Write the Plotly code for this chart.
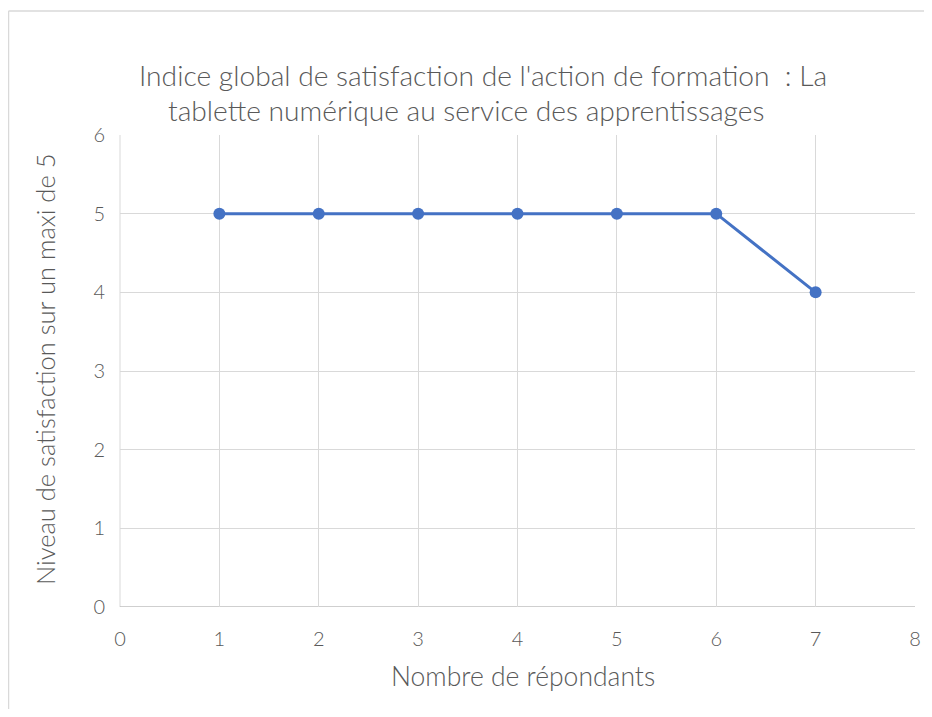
import plotly.graph_objects as go

respondents = [1, 2, 3, 4, 5, 6, 7]
satisfaction = [5, 5, 5, 5, 5, 5, 4]

title_line1 = "Indice global de satisfaction de l'action de formation  : La"
title_line2 = "tablette numérique au service des apprentissages"
x_title = "Nombre de répondants"
y_title = "Niveau de satisfaction sur un maxi de 5"

OFF = 8  # page body margin
W, H = 932 - OFF * 2, 717 - OFF * 2
# target plot area in window px: x 120..915, y 135..607
L, T = 120 - OFF, 135 - OFF
pw, ph = 915 - 120, 607 - 135
R = W - L - pw
B = H - T - ph

def px(x):
    return (x - OFF - L) / pw

def py(y):
    return (T + ph - (y - OFF)) / ph

FONT = "Lato, 'Open Sans', sans-serif"
GRAY = "#595959"

fig = go.Figure()
fig.add_trace(go.Scatter(
    x=respondents, y=satisfaction, mode="lines+markers",
    line=dict(color="#4472C4", width=3),
    marker=dict(color="#4472C4", size=12),
    showlegend=False, cliponaxis=False,
))

fig.update_layout(
    width=W, height=H,
    margin=dict(l=L, r=R, t=T, b=B, autoexpand=False),
    paper_bgcolor="white", plot_bgcolor="white",
    font=dict(family=FONT, color=GRAY, weight=300),
    xaxis=dict(range=[0, 8], dtick=1, tick0=0, showgrid=True, gridcolor="#d9d9d9", gridwidth=1,
               zeroline=False, showline=False, ticks="", automargin=False,
               tickfont=dict(size=20, color=GRAY, weight=300), ticklabelstandoff=18),
    yaxis=dict(range=[0, 6], dtick=1, tick0=0, showgrid=True, gridcolor="#d9d9d9", gridwidth=1,
               zeroline=False, showline=False, ticks="", automargin=False,
               tickfont=dict(size=20, color=GRAY, weight=300), ticklabelstandoff=14),
    shapes=[
        dict(type="line", xref="paper", yref="paper", x0=px(8.5), x1=px(960), y0=py(11), y1=py(11),
             line=dict(color="#d9d9d9", width=1.5), layer="below"),
        dict(type="line", xref="paper", yref="paper", x0=px(8.5), x1=px(8.5), y0=py(11), y1=py(760),
             line=dict(color="#d9d9d9", width=1.5), layer="below"),
        dict(type="line", xref="x", yref="y", x0=0, x1=8, y0=0, y1=0,
             line=dict(color="#bfbfbf", width=1.5), layer="below"),
        dict(type="line", xref="paper", yref="paper", x0=0, x1=0, y0=0, y1=1,
             line=dict(color="#d9d9d9", width=1), layer="below"),
    ],
    annotations=[
        dict(text=title_line1, xref="paper", yref="paper", x=px(483), y=py(75),
             showarrow=False, font=dict(size=28.2, color=GRAY, weight=300), xanchor="center", yanchor="middle"),
        dict(text=title_line2, xref="paper", yref="paper", x=px(466), y=py(110),
             showarrow=False, font=dict(size=28.2, color=GRAY, weight=300), xanchor="center", yanchor="middle"),
        dict(text=x_title, xref="paper", yref="paper", x=px(523), y=py(676),
             showarrow=False, font=dict(size=26.5, color=GRAY, weight=300), xanchor="center", yanchor="middle"),
        dict(text=y_title, xref="paper", yref="paper", x=px(45), y=py(370),
             showarrow=False, font=dict(size=25.5, color=GRAY, weight=300), xanchor="center", yanchor="middle",
             textangle=-90),
    ],
)

fig.write_html("out.html")
